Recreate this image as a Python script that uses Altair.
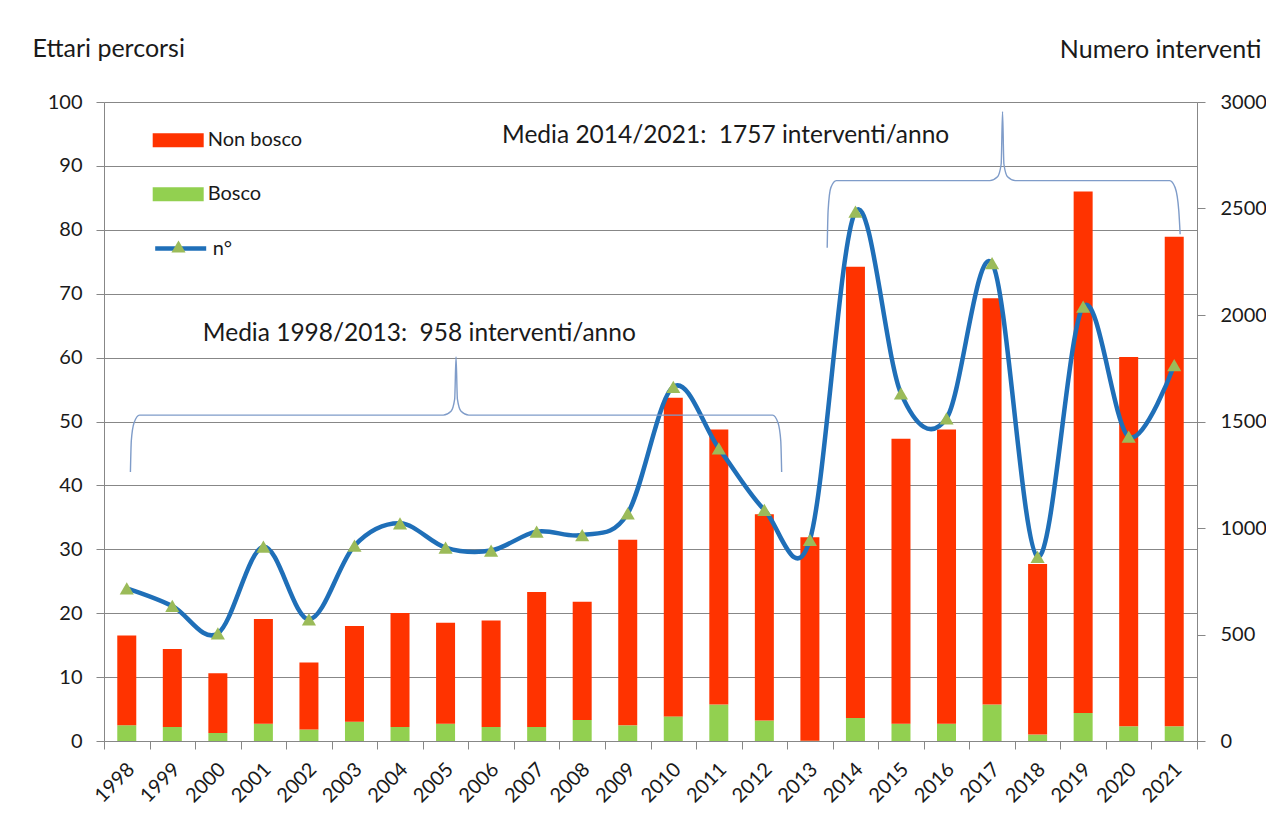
import altair as alt
import pandas as pd

anni = [str(y) for y in range(1998, 2022)]
non_bosco = [14.05, 12.2, 9.35, 16.4, 10.5, 15.0, 17.85, 15.8, 16.65, 21.1, 18.5, 29.05,
             49.85, 43.05, 32.3, 31.85, 70.6, 44.6, 46.05, 63.6, 26.7, 81.6, 57.8, 76.6]
bosco = [2.45, 2.2, 1.25, 2.7, 1.8, 3.0, 2.2, 2.7, 2.2, 2.2, 3.3, 2.45,
         3.85, 5.7, 3.2, 0.05, 3.6, 2.7, 2.7, 5.7, 1.0, 4.4, 2.3, 2.3]
interventi = [717, 634, 505, 912, 571, 917, 1022, 908, 894, 983, 967, 1069,
              1663, 1374, 1085, 944, 2485, 1632, 1515, 2243, 865, 2039, 1429, 1765]

# annotation braces (x in year-slot units 0..24, y in hectares)
brace1_x = [0.58, 0.60, 0.66, 0.78, 7.45, 7.62, 7.70, 7.73, 7.76, 7.84, 8.01, 14.68, 14.80, 14.86, 14.88]
brace1_y = [42.1, 47.0, 49.8, 51.0, 51.0, 51.6, 53.5, 60.1, 53.5, 51.6, 51.0, 51.0, 49.8, 47.0, 42.1]
brace2_x = [15.88, 15.90, 15.96, 16.08, 19.45, 19.62, 19.70, 19.73, 19.76, 19.84, 20.01, 23.40, 23.52, 23.60, 23.63]
brace2_y = [77.2, 83.0, 86.6, 87.7, 87.7, 88.3, 90.3, 98.5, 90.3, 88.3, 87.7, 87.7, 86.6, 83.0, 79.3]
note_text = ["Media 1998/2013:\u00a0 958 interventi/anno", "Media 2014/2021:\u00a0 1757 interventi/anno"]
note_x = [2.17, 8.74]
note_y = [62.6, 93.6]

FONT = "Lato"
TXT = "#1a1a1a"
GRID = "#878787"

rows = []
for a, nb, b in zip(anni, non_bosco, bosco):
    rows.append({"anno": a, "tipo": "Bosco", "valore": b, "ord": 0})
    rows.append({"anno": a, "tipo": "Non bosco", "valore": nb, "ord": 1})
df_bar = pd.DataFrame(rows)
df_line = pd.DataFrame({"anno": anni, "n": interventi, "s1": "n°", "s2": "n°"})

brows = []
for i, (x, y) in enumerate(zip(brace1_x, brace1_y)):
    brows.append({"bx": x, "by": y, "grp": "a", "o": i})
for i, (x, y) in enumerate(zip(brace2_x, brace2_y)):
    brows.append({"bx": x, "by": y, "grp": "b", "o": i})
df_brace = pd.DataFrame(brows)
df_note = pd.DataFrame({"tx": note_x, "ty": note_y, "label": note_text})

xband = alt.X(
    "anno:N",
    scale=alt.Scale(domain=anni, paddingInner=0, paddingOuter=0),
    axis=alt.Axis(title=None, labelAngle=-45, tickBand="extent", grid=False,
                  labelFontSize=20, labelFont=FONT, labelColor=TXT, tickSize=8,
                  tickColor=GRID, domainColor=GRID, labelPadding=10, labelOffset=-3),
)

bars = alt.Chart(df_bar).mark_bar(width=19).encode(
    x=xband,
    y=alt.Y("valore:Q", stack="zero",
            scale=alt.Scale(domain=[0, 100], nice=False),
            axis=alt.Axis(values=list(range(0, 101, 10)), title="Ettari percorsi",
                          titleAngle=0, titleAlign="left", titleBaseline="alphabetic",
                          titleX=-72, titleY=-46, titleFontSize=25, titleFont=FONT,
                          titleFontWeight="normal", titleColor=TXT,
                          grid=True, gridColor=GRID, gridWidth=1.2,
                          tickSize=8, tickColor=GRID, domainColor=GRID,
                          labelFontSize=20, labelFont=FONT, labelColor=TXT, labelPadding=14)),
    fill=alt.Fill("tipo:N",
                  scale=alt.Scale(domain=["Non bosco", "Bosco"], range=["#FF3300", "#92D050"]),
                  legend=alt.Legend(orient="none", legendX=48.7, legendY=12.8, title=None,
                                    symbolType="M-1,-0.275H1V0.275H-1Z", symbolSize=2601,
                                    symbolStrokeWidth=0, labelFont=FONT, labelFontSize=20,
                                    labelColor=TXT, labelOffset=4, rowPadding=18, padding=0)),
    order=alt.Order("ord:Q", sort="ascending"),
)

yn = alt.Y("n:Q", scale=alt.Scale(domain=[0, 3000], nice=False),
           axis=alt.Axis(orient="right", values=list(range(0, 3001, 500)), format="d",
                         title="Numero interventi", titleAngle=0, titleAlign="right",
                         titleBaseline="alphabetic", titleX=64, titleY=-45,
                         titleFontSize=25, titleFont=FONT, titleFontWeight="normal",
                         titleColor=TXT, grid=False, tickSize=8, tickColor=GRID,
                         domainColor=GRID, labelFontSize=20, labelFont=FONT,
                         labelColor=TXT, labelPadding=15))

line = alt.Chart(df_line).mark_line(interpolate="cardinal", strokeWidth=4.5).encode(
    x=xband,
    y=yn,
    stroke=alt.Stroke("s1:N", scale=alt.Scale(range=["#1F6FB8"]),
                      legend=alt.Legend(orient="none", legendX=48.7, legendY=118.5, title=None,
                                        symbolType="M-1,0H1", symbolSize=2601,
                                        symbolStrokeWidth=4.5, labelFont=FONT,
                                        labelFontSize=20, labelColor=TXT, labelOffset=4,
                                        padding=0)),
)

points = alt.Chart(df_line).mark_point(filled=True, size=200, opacity=1, color="#9BBB59").encode(
    x=xband,
    y=yn,
    shape=alt.Shape("s2:N", scale=alt.Scale(range=["triangle-up"]),
                    legend=alt.Legend(orient="none", legendX=67, legendY=137, title=None,
                                      symbolSize=200, symbolFillColor="#9BBB59",
                                      symbolStrokeWidth=0, labelOpacity=0, padding=0)),
)

lp = alt.layer(line, points)
main = alt.layer(bars, lp).resolve_scale(y="independent")

xq = alt.X("bx:Q", scale=alt.Scale(domain=[0, 24], nice=False, zero=False), axis=None)
yq = alt.Y("by:Q", scale=alt.Scale(domain=[0, 100], nice=False), axis=None)
braces = alt.Chart(df_brace).mark_line(interpolate="monotone", stroke="#7F9CC9", strokeWidth=1.4).encode(
    x=xq, y=yq, detail="grp:N", order="o:Q")
notes = alt.Chart(df_note).mark_text(align="left", baseline="alphabetic", fontSize=24.5,
                                      font=FONT, color=TXT).encode(
    x=alt.X("tx:Q", scale=alt.Scale(domain=[0, 24], nice=False, zero=False), axis=None),
    y=alt.Y("ty:Q", scale=alt.Scale(domain=[0, 100], nice=False), axis=None),
    text="label:N")
ann = alt.layer(braces, notes)

chart = alt.layer(main, ann).resolve_scale(x="independent", y="independent").properties(
    width=1093, height=639,
    padding={"left": 96, "top": 94, "right": 69, "bottom": 71},
    autosize=alt.AutoSizeParams(type="none"),
    background="white",
).configure_view(stroke=None).configure(font=FONT)

chart.save("out.html", embed_options={"renderer": "svg", "actions": False})
